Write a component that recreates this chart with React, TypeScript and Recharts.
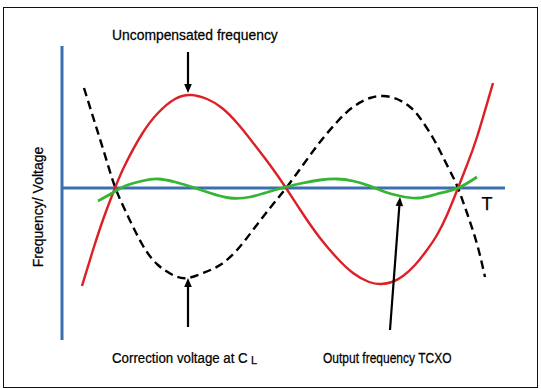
import React from "react";
import { LineChart, Line, XAxis, YAxis, ReferenceLine } from "recharts";

// t = temperature (arbitrary units), v = deviation (arbitrary units)
const uncompensated = [
  { t: 20, v: -98 }, { t: 31, v: -62 }, { t: 42, v: -29 }, { t: 53, v: 0 },
  { t: 63, v: 23 }, { t: 80, v: 54 }, { t: 96, v: 75 }, { t: 113, v: 89 },
  { t: 129, v: 93 }, { t: 145, v: 89 }, { t: 160, v: 80 }, { t: 176, v: 64 },
  { t: 192, v: 44 }, { t: 208, v: 23 }, { t: 224, v: 0 }, { t: 241, v: -26 },
  { t: 258, v: -50 }, { t: 275, v: -70 }, { t: 291, v: -85 }, { t: 307, v: -94 },
  { t: 319, v: -96 }, { t: 330, v: -94 }, { t: 341, v: -88 }, { t: 353, v: -77 },
  { t: 365, v: -62 }, { t: 375, v: -47 }, { t: 385, v: -27 }, { t: 396, v: 0 },
  { t: 405, v: 23 }, { t: 415, v: 51 }, { t: 431, v: 105 },
];

const correction = [
  { t: 22, v: 100 }, { t: 32, v: 68 }, { t: 42, v: 36 }, { t: 52, v: 4 },
  { t: 63, v: -22 }, { t: 80, v: -56 }, { t: 96, v: -77 }, { t: 113, v: -88 },
  { t: 126, v: -90 }, { t: 141, v: -85 }, { t: 158, v: -77 }, { t: 175, v: -62 },
  { t: 191, v: -42 }, { t: 208, v: -20 }, { t: 224, v: 0 }, { t: 241, v: 23 },
  { t: 258, v: 46 }, { t: 275, v: 66 }, { t: 291, v: 81 }, { t: 308, v: 90 },
  { t: 321, v: 92 }, { t: 335, v: 89 }, { t: 348, v: 81 }, { t: 358, v: 70 },
  { t: 371, v: 50 }, { t: 381, v: 31 }, { t: 390, v: 13 }, { t: 396, v: 0 },
  { t: 405, v: -25 }, { t: 415, v: -56 }, { t: 423, v: -89 },
];

const output = [
  { t: 36, v: -13 }, { t: 52, v: -4 }, { t: 63, v: 2 }, { t: 80, v: 7 },
  { t: 96, v: 9 }, { t: 113, v: 6 }, { t: 130, v: 1 }, { t: 148, v: -5 },
  { t: 168, v: -10 }, { t: 188, v: -9 }, { t: 206, v: -4 }, { t: 224, v: 1 },
  { t: 241, v: 5 }, { t: 258, v: 8 }, { t: 275, v: 9 }, { t: 291, v: 7 },
  { t: 308, v: 2 }, { t: 323, v: -4 }, { t: 338, v: -8 }, { t: 356, v: -10 },
  { t: 375, v: -6 }, { t: 396, v: 0 }, { t: 415, v: 11 },
];

// annotation arrows: [from, to] in data units
const arrowUncomp = [{ x: 126, y: 136 }, { x: 126, y: 95 }];
const arrowCorr = [{ x: 126, y: -139 }, { x: 126, y: -90 }];
const arrowOut = [{ x: 328, y: -142 }, { x: 338, y: -9 }];

const RED = "#dc2025";
const GREEN = "#35b534";
const BLUE = "#3d6fb0";
const FONT = "'Liberation Sans', Arial, sans-serif";

const Arrow = (props: any) => {
  const { x1, y1, x2, y2 } = props;
  const dx = x2 - x1;
  const dy = y2 - y1;
  const len = Math.sqrt(dx * dx + dy * dy);
  const ux = dx / len;
  const uy = dy / len;
  const hl = 9;
  const hw = 3.8;
  const bx = x2 - ux * hl;
  const by = y2 - uy * hl;
  const pts = `${x2},${y2} ${bx - uy * hw},${by + ux * hw} ${bx + uy * hw},${by - ux * hw}`;
  return (
    <g>
      <line x1={x1} y1={y1} x2={bx} y2={by} stroke="#000" strokeWidth={2.2} />
      <polygon points={pts} fill="#000" />
    </g>
  );
};

export default function App() {
  return (
    <div style={{ position: "absolute", left: 0, top: 0, width: 541, height: 389, background: "#fff" }}>
      <div
        style={{
          position: "absolute",
          left: 3,
          top: 6.5,
          width: 535,
          height: 381,
          border: "1.6px solid #111",
          boxSizing: "border-box",
        }}
      />
      <LineChart
        width={541}
        height={389}
        margin={{ top: 46, right: 36, bottom: 49, left: 62 }}
        style={{ position: "absolute", left: 0, top: 0 }}
      >
        <XAxis type="number" dataKey="t" domain={[0, 443]} hide allowDataOverflow />
        <YAxis type="number" dataKey="v" domain={[-152, 142]} hide allowDataOverflow />
        <ReferenceLine x={0} stroke={BLUE} strokeWidth={3} />
        <ReferenceLine y={0} stroke={BLUE} strokeWidth={3} />
        <Line
          data={correction}
          dataKey="v"
          type="natural"
          stroke="#000"
          strokeWidth={2.4}
          strokeDasharray="8.5 5"
          dot={false}
          isAnimationActive={false}
        />
        <Line
          data={uncompensated}
          dataKey="v"
          type="natural"
          stroke={RED}
          strokeWidth={2.4}
          dot={false}
          isAnimationActive={false}
        />
        <Line
          data={output}
          dataKey="v"
          type="natural"
          stroke={GREEN}
          strokeWidth={2.8}
          dot={false}
          isAnimationActive={false}
        />
        <ReferenceLine segment={arrowUncomp} shape={Arrow} ifOverflow="visible" />
        <ReferenceLine segment={arrowCorr} shape={Arrow} ifOverflow="visible" />
        <ReferenceLine segment={arrowOut} shape={Arrow} ifOverflow="visible" />
      </LineChart>
      <svg
        width={541}
        height={389}
        style={{ position: "absolute", left: 0, top: 0, pointerEvents: "none" }}
      >
        <g fontFamily={FONT} fill="#000" stroke="#000" strokeWidth={0.25}>
          <text transform="translate(112 40) scale(0.926 1)" fontSize={15}>
            Uncompensated frequency
          </text>
          <text transform="translate(112 363) scale(0.885 1)" fontSize={15}>
            Correction voltage at C
          </text>
          <text x={251} y={363.5} fontSize={11}>
            L
          </text>
          <text transform="translate(323 363) scale(0.80 1)" fontSize={15}>
            Output frequency TCXO
          </text>
          <text x={487} y={210} fontSize={18} textAnchor="middle">
            T
          </text>
          <text
            x={0}
            y={0}
            fontSize={14}
            textAnchor="middle"
            transform="translate(42.5 207) rotate(-90)"
          >
            Frequency/ Voltage
          </text>
        </g>
      </svg>
    </div>
  );
}
